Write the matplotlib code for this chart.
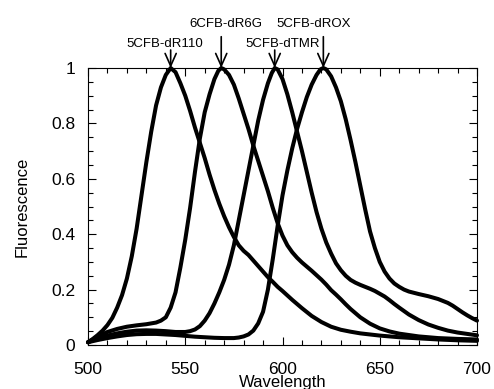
import matplotlib
matplotlib.use("Agg")
import matplotlib.pyplot as plt
from matplotlib.ticker import MultipleLocator, FuncFormatter

plt.rcParams['font.family'] = ['Liberation Sans', 'DejaVu Sans']

# ---- data ----
wl_r110 = [500, 502.5, 505, 507.5, 510, 512.5, 515, 517.5, 520, 522.5, 525, 527.5, 530, 532.5,
           535, 537.5, 540, 542.5, 545, 547.5, 550, 552.5, 555, 557.5, 560, 562.5, 565, 567.5,
           570, 572.5, 575, 577.5, 580, 582.5, 585, 587.5, 590, 592.5, 595, 597.5, 600, 605,
           610, 615, 620, 625, 630, 635, 640, 650, 660, 670, 680, 690, 700]
fl_r110 = [0.01, 0.022, 0.036, 0.052, 0.072, 0.098, 0.135, 0.18, 0.24, 0.32, 0.42, 0.54, 0.66, 0.77,
           0.865, 0.93, 0.975, 1.0, 0.985, 0.945, 0.90, 0.845, 0.785, 0.73, 0.675, 0.615, 0.56, 0.51,
           0.465, 0.425, 0.39, 0.36, 0.34, 0.325, 0.305, 0.285, 0.265, 0.245, 0.228, 0.21, 0.195, 0.163,
           0.133, 0.105, 0.083, 0.066, 0.055, 0.048, 0.042, 0.034, 0.028, 0.024, 0.02, 0.017, 0.015]

wl_r6g = [500, 502.5, 505, 507.5, 510, 515, 520, 525, 530, 535, 537.5, 540, 542.5, 545, 547.5,
          550, 552.5, 555, 557.5, 560, 562.5, 565, 567, 568.5, 570, 572.5, 575, 577.5, 580,
          582.5, 585, 587.5, 590, 592.5, 595, 597.5, 600, 602.5, 605, 607.5, 610, 612.5, 615,
          617.5, 620, 622.5, 625, 627.5, 630, 632.5, 635, 640, 645, 650, 655, 660, 670, 680,
          690, 700]
fl_r6g = [0.01, 0.02, 0.03, 0.039, 0.047, 0.058, 0.066, 0.071, 0.075, 0.081, 0.088, 0.10, 0.135, 0.19, 0.28,
          0.38, 0.495, 0.625, 0.745, 0.84, 0.905, 0.96, 0.99, 1.0, 0.995, 0.975, 0.94, 0.89, 0.835,
          0.78, 0.72, 0.665, 0.61, 0.555, 0.495, 0.44, 0.395, 0.36, 0.335, 0.315, 0.298, 0.283, 0.268,
          0.252, 0.236, 0.218, 0.198, 0.182, 0.165, 0.147, 0.13, 0.10, 0.077, 0.06, 0.049, 0.041, 0.031, 0.025,
          0.022, 0.02]

wl_tmr = [500, 505, 510, 515, 520, 525, 530, 535, 540, 545, 550, 552.5, 555, 557.5, 560, 562.5,
          565, 567.5, 570, 572.5, 575, 577.5, 580, 582.5, 585, 587.5, 590, 592.5, 594.5, 596,
          597.5, 600, 602.5, 605, 607.5, 610, 612.5, 615, 617.5, 620, 622.5, 625, 627.5, 630,
          632.5, 635, 637.5, 640, 642.5, 645, 647.5, 650, 652.5, 655, 657.5, 660, 665, 670,
          675, 680, 685, 690, 695, 700]
fl_tmr = [0.01, 0.024, 0.034, 0.042, 0.048, 0.052, 0.053, 0.052, 0.05, 0.047, 0.047, 0.05, 0.056, 0.068, 0.088, 0.115,
          0.15, 0.19, 0.235, 0.29, 0.36, 0.45, 0.54, 0.63, 0.72, 0.81, 0.885, 0.945, 0.982, 1.0,
          0.995, 0.96, 0.905, 0.84, 0.77, 0.70, 0.625, 0.55, 0.48, 0.42, 0.37, 0.33, 0.295, 0.27,
          0.25, 0.235, 0.225, 0.217, 0.21, 0.203, 0.195, 0.185, 0.175, 0.162, 0.148, 0.135, 0.11, 0.09,
          0.074, 0.062, 0.052, 0.045, 0.04, 0.035]

wl_rox = [500, 505, 510, 515, 520, 525, 530, 535, 540, 545, 550, 555, 560, 565, 570, 575,
          577.5, 580, 582.5, 585, 587.5, 590, 592.5, 595, 597.5, 600, 602.5, 605, 607.5, 610,
          612.5, 615, 617.5, 619.5, 621, 622.5, 625, 627.5, 630, 632.5, 635, 637.5, 640, 642.5,
          645, 647.5, 650, 652.5, 655, 657.5, 660, 662.5, 665, 670, 675, 680, 685, 687.5,
          690, 692.5, 695, 697.5, 700]
fl_rox = [0.01, 0.018, 0.025, 0.031, 0.036, 0.039, 0.04, 0.04, 0.038, 0.036, 0.033, 0.03, 0.028, 0.026, 0.025, 0.025,
          0.027, 0.031, 0.038, 0.052, 0.078, 0.12, 0.20, 0.31, 0.43, 0.54, 0.63, 0.71, 0.78, 0.84,
          0.895, 0.94, 0.975, 0.995, 1.0, 0.995, 0.97, 0.93, 0.88, 0.815, 0.74, 0.66, 0.575, 0.49,
          0.41, 0.35, 0.30, 0.265, 0.24, 0.222, 0.21, 0.20, 0.193, 0.184, 0.176, 0.166, 0.152, 0.142,
          0.13, 0.118, 0.107, 0.097, 0.088]

dye_names = ["5CFB-dR110", "6CFB-dR6G", "5CFB-dTMR", "5CFB-dROX"]
x_ticks = [500, 550, 600, 650, 700]
y_ticks = [0, 0.2, 0.4, 0.6, 0.8, 1]

series = [(wl_r110, fl_r110), (wl_r6g, fl_r6g), (wl_tmr, fl_tmr), (wl_rox, fl_rox)]

# ---- figure ----
W, H = 494, 389
fig = plt.figure(figsize=(W / 100, H / 100), dpi=100)
ax = fig.add_axes([88 / W, 1 - 345 / H, (477 - 88) / W, (345 - 68) / H])

for wl, fl in series:
    ax.plot(wl, fl, color='black', lw=2.9, solid_joinstyle='round',
            solid_capstyle='round', clip_on=False, zorder=3)

ax.set_xlim(500, 700)
ax.set_ylim(0, 1)
ax.set_xticks(x_ticks)
ax.set_yticks(y_ticks)
ax.xaxis.set_minor_locator(MultipleLocator(10))
ax.yaxis.set_minor_locator(MultipleLocator(0.05))
ax.yaxis.set_major_formatter(FuncFormatter(lambda v, p: f"{v:g}"))
ax.tick_params(which='both', direction='in', top=True, right=True,
               width=0.8, labelsize=12.5, color='black')
ax.tick_params(which='major', length=6)
ax.tick_params(which='minor', length=3.5)
ax.tick_params(axis='x', pad=12.5)
ax.tick_params(axis='y', pad=9)
for s in ax.spines.values():
    s.set_linewidth(0.8)

ax.set_xlabel("Wavelength", fontsize=12)
ax.xaxis.label.set_va('baseline')
ax.xaxis.set_label_coords(0.5, (345 - 386.5) / 277)
ax.set_ylabel("Fluorescence", fontsize=12, labelpad=16)

# annotations: label text and arrows pointing at each peak
text_pos = [(539.7, 1.077), (570.7, 1.149), (600.3, 1.077), (616.2, 1.149)]
arrow_start = [1.065, 1.113, 1.065, 1.113]
for (wl, fl), name, (tx, ty), ys in zip(series, dye_names, text_pos, arrow_start):
    i = fl.index(max(fl))
    px, py = wl[i], fl[i]
    ax.text(tx, ty, name, ha='center', va='baseline', fontsize=9.5, clip_on=False)
    ax.annotate('', xy=(px, py), xytext=(px, ys), xycoords='data', textcoords='data',
                annotation_clip=False,
                arrowprops=dict(arrowstyle='->,head_length=0.9,head_width=0.4',
                                mutation_scale=10, lw=1.2, color='black',
                                shrinkA=0, shrinkB=0))

fig.savefig("out.png", dpi=100)
